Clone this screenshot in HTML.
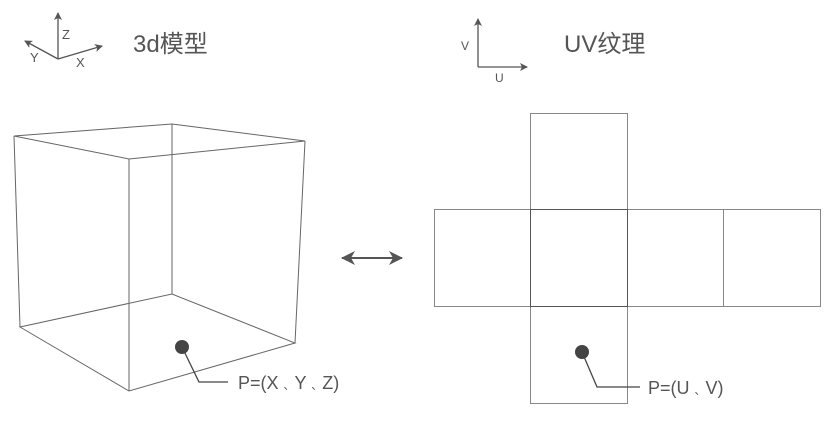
<!DOCTYPE html>
<html><head><meta charset="utf-8"><style>
body{margin:0;background:#fff;}
svg text{font-family:"Liberation Sans","Noto Sans CJK SC",sans-serif;fill:#555;}
</style></head><body>
<svg width="834" height="417" viewBox="0 0 834 417" xmlns="http://www.w3.org/2000/svg">
<defs><marker id="a" markerWidth="8" markerHeight="8" refX="7" refY="4" orient="auto" markerUnits="userSpaceOnUse"><path d="M0,0L8,4L0,8L2,4Z" fill="#555"/></marker>
<marker id="b" markerWidth="14" markerHeight="14" refX="13" refY="7" orient="auto-start-reverse" markerUnits="userSpaceOnUse"><path d="M0,0L14,7L0,14L4,7Z" fill="#555"/></marker></defs>
<g stroke="#555" stroke-width="1.3" fill="none">
<line x1="58" y1="59" x2="58" y2="13" marker-end="url(#a)"/>
<line x1="58" y1="59" x2="102" y2="46" marker-end="url(#a)"/>
<line x1="58" y1="59" x2="25" y2="41" marker-end="url(#a)"/>
<line x1="478" y1="67" x2="478" y2="19" marker-end="url(#a)"/>
<line x1="478" y1="67" x2="527" y2="67" marker-end="url(#a)"/>
<line x1="342" y1="258" x2="402" y2="258" stroke-width="2" marker-start="url(#b)" marker-end="url(#b)"/>
</g>
<text x="62" y="39" font-size="13">Z</text>
<text x="30" y="62" font-size="13">Y</text>
<text x="76" y="67" font-size="13">X</text>
<text x="461" y="50" font-size="12">V</text>
<text x="495" y="82" font-size="12">U</text>
<text x="133" y="52" font-size="24">3d模型</text>
<text x="564" y="52" font-size="24">UV纹理</text>
<g stroke="#666" stroke-width="1" fill="none">
<path d="M14,136L129,159L305,141L172,124Z"/>
<line x1="14" y1="136" x2="20" y2="327"/>
<line x1="129" y1="159" x2="129" y2="391"/>
<line x1="172" y1="124" x2="172" y2="294"/>
<line x1="305" y1="141" x2="295" y2="343"/>
<path d="M20,327L129,391L295,343L172,294Z"/>
</g>
<g stroke="#888" stroke-width="1" fill="none">
<rect x="530.5" y="113.5" width="97" height="290"/>
<rect x="434.5" y="209.5" width="386" height="97"/>
<line x1="723.5" y1="209" x2="723.5" y2="306"/>
<rect x="530.5" y="209.5" width="97" height="97" stroke="#555"/>
</g>
<circle cx="182" cy="347" r="7" fill="#444"/>
<polyline points="182,347 199,382 228,382" stroke="#444" stroke-width="1.3" fill="none"/>
<text x="238" y="389" font-size="18">P=(X <tspan font-size="11">、</tspan>Y <tspan font-size="11">、</tspan>Z)</text>
<circle cx="582" cy="352" r="7" fill="#444"/>
<polyline points="582,352 597,387 640,387" stroke="#444" stroke-width="1.3" fill="none"/>
<text x="648" y="394" font-size="18">P=(U <tspan font-size="11">、</tspan>V)</text>
</svg>
</body></html>
